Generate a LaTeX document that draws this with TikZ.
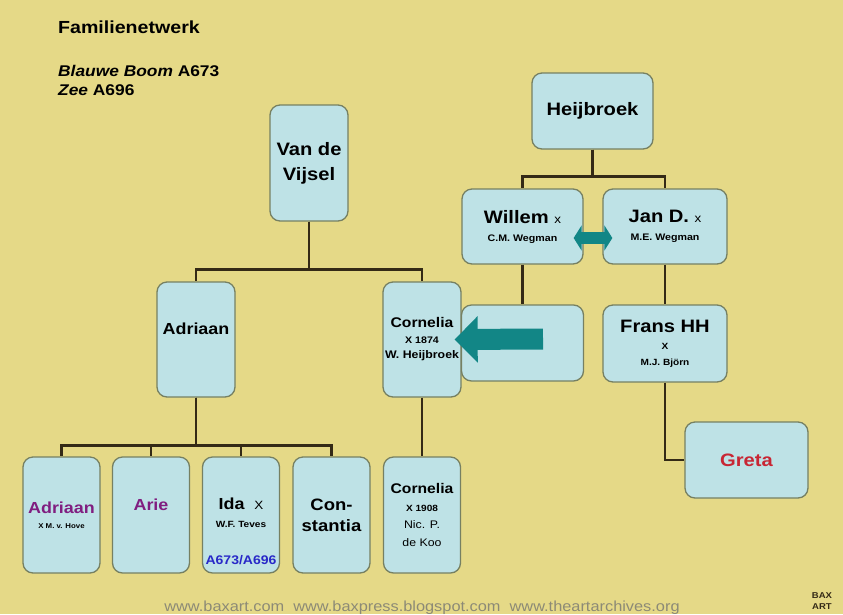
\documentclass[tikz,border=0pt]{standalone}
\usepackage{fontspec}
\setmainfont{Liberation Sans}[FakeStretch=1.12]
\usetikzlibrary{arrows.meta}
\definecolor{bgyellow}{RGB}{229,217,135}
\definecolor{boxfill}{RGB}{190,226,230}
\definecolor{boxline}{RGB}{118,128,98}
\definecolor{tieline}{RGB}{52,42,22}
\definecolor{arrowteal}{RGB}{18,134,134}
\definecolor{gretared}{RGB}{200,38,52}
\definecolor{namepurple}{RGB}{128,30,128}
\definecolor{codeblue}{RGB}{40,40,200}
\definecolor{sitegray}{RGB}{140,138,118}

\begin{document}
\begin{tikzpicture}
[every node/.style={inner sep=0pt},
 famblock/.style={rectangle, rounded corners=10pt, fill=boxfill, draw=boxline, line width=1.3pt, align=center, text=black},
 tallblock/.style={famblock, minimum width=78pt, minimum height=115pt},
 kidblock/.style={famblock, minimum width=77pt, minimum height=116pt},
 wideblock/.style={famblock, minimum width=122pt, minimum height=76pt},
 bigname/.style={font=\bfseries\fontsize{18pt}{22pt}\selectfont},
 midname/.style={font=\bfseries\fontsize{16pt}{20pt}\selectfont},
 tie/.style={line width=2.4pt, color=tieline},
 marriage/.style={line width=12pt, color=arrowteal, {Triangle[width=25pt,length=8pt]}-{Triangle[width=25pt,length=8pt]}},
 transfer/.style={line width=21pt, color=arrowteal, -{Triangle[width=45pt,length=23pt]}}]
\useasboundingbox (0pt,0pt) rectangle (843pt,-614pt);
\fill [bgyellow] (0pt,0pt) rectangle (843pt,-614pt);
% titel
\node (title) [anchor=base west, font=\bfseries\fontsize{17.5pt}{20pt}\selectfont] at (58pt,-33pt) {Familienetwerk};
\node (legendA) [anchor=base west, font=\bfseries\fontsize{15.5pt}{19pt}\selectfont] at (58pt,-76pt) {\textit{Blauwe Boom} A673};
\node (legendB) [anchor=base west, font=\bfseries\fontsize{15.5pt}{19pt}\selectfont] at (58pt,-95pt) {\textit{Zee} A696};
% Van de Vijsel
\node (vdvijsel) [tallblock, minimum height=116pt, font=\bfseries\fontsize{18pt}{25pt}\selectfont] at (309pt,-163pt) {Van de\\Vijsel};
\node (adriaan) [tallblock, midname] at (196pt,-339.5pt) {\rule[-21pt]{0pt}{21pt}Adriaan};
\node (cornelia) [tallblock, font=\bfseries\fontsize{14pt}{15.5pt}\selectfont] at (422pt,-339.5pt) {Cornelia\\{\fontsize{9.5pt}{11pt}\selectfont X 1874}\\{\fontsize{11pt}{13pt}\selectfont W. Heijbroek}};
% Heijbroek
\node (heijbroek) [wideblock, minimum width=121pt, bigname] at (592.5pt,-111pt) {Heijbroek};
\node (willem) [wideblock, minimum width=121pt, minimum height=75pt, bigname] at (522.5pt,-226.5pt) {Willem {\mdseries\fontsize{12pt}{14pt}\selectfont x}\\[-4pt]{\fontsize{9.5pt}{11pt}\selectfont C.M. Wegman}};
\node (janD) [wideblock, minimum width=124pt, minimum height=75pt, bigname] at (665pt,-226.5pt) {Jan D. {\mdseries\fontsize{12pt}{14pt}\selectfont x}\\[-4pt]{\fontsize{9.5pt}{11pt}\selectfont M.E. Wegman}};
\node (willemkid) [wideblock] at (522.5pt,-343pt) {};
\node (frans) [wideblock, minimum width=124pt, minimum height=77pt, font=\bfseries\fontsize{18pt}{16pt}\selectfont] at (665pt,-343.5pt) {Frans HH\\[1.5pt]{\fontsize{9pt}{11pt}\selectfont X}\\{\fontsize{9pt}{11pt}\selectfont M.J. Björn}};
\node (greta) [wideblock, minimum width=123pt, bigname, text=gretared] at (746.5pt,-460pt) {Greta};
% kinderen
\node (adriaanjr) [kidblock, font=\bfseries\fontsize{16pt}{14.5pt}\selectfont] at (61.5pt,-515pt) {\textcolor{namepurple}{Adriaan}\\{\fontsize{7pt}{8pt}\selectfont X M. v. Hove}};
\node (arie) [kidblock, midname, text=namepurple] at (151pt,-515pt) {\rule[-20pt]{0pt}{20pt}Arie};
\node (ida) [kidblock, font=\bfseries\fontsize{16pt}{17.5pt}\selectfont] at (241pt,-515pt) {\rule{0pt}{44pt}Ida\ \ {\mdseries\fontsize{12pt}{14pt}\selectfont X}\\{\fontsize{9pt}{11pt}\selectfont W.F. Teves}\\[19.5pt]{\fontsize{12.5pt}{14pt}\selectfont\textcolor{codeblue}{A673/A696}}};
\node (constantia) [kidblock, font=\bfseries\fontsize{16.5pt}{21pt}\selectfont] at (331.5pt,-515pt) {Con-\\stantia};
\node (corneliajr) [kidblock, font=\bfseries\fontsize{14pt}{17.5pt}\selectfont] at (422pt,-515pt) {Cornelia\\{\fontsize{9pt}{11pt}\selectfont X 1908}\\{\mdseries\fontsize{11pt}{13pt}\selectfont Nic. P.}\\{\mdseries\fontsize{11pt}{13pt}\selectfont de Koo}};
% lijnen
\draw [tie] (vdvijsel.south) |- ([yshift=12pt]adriaan.north) -- (adriaan.north);
\draw [tie] (vdvijsel.south) |- ([yshift=12pt]cornelia.north) -- (cornelia.north);
\foreach \kid in {adriaanjr, arie, ida, constantia}
  \draw [tie] (adriaan.south) |- ([yshift=11pt]\kid.north) -- (\kid.north);
\draw [tie] (cornelia.south) -- (corneliajr.north);
\draw [tie] (heijbroek.south) |- ([yshift=12pt]willem.north) -- (willem.north);
\draw [tie] (heijbroek.south) |- ([yshift=12pt]janD.north) -- (janD.north);
\draw [tie] (willem.south) -- (willemkid.north);
\draw [tie] (janD.south) -- (frans.north);
\draw [tie] (frans.south) |- (greta.west);
% pijlen
\draw [marriage] ([shift={(-10pt,-11.5pt)}]willem.east) -- ([shift={(10pt,-11.5pt)}]janD.west);
\draw [transfer] ([shift={(20.5pt,4pt)}]willemkid.center) -- ([xshift=-7pt]cornelia.east);
% onderschrift
\node (sites) [anchor=base, text=sitegray, font=\fontsize{14.6pt}{16pt}\selectfont] at (422pt,-611pt) {www.baxart.com\ \ www.baxpress.blogspot.com\ \ www.theartarchives.org};
\node (baxA) [anchor=base, font=\bfseries\fontsize{8.5pt}{10pt}\selectfont, text=tieline] at (822pt,-598pt) {BAX};
\node (baxB) [anchor=base, font=\bfseries\fontsize{8.5pt}{10pt}\selectfont, text=tieline] at (822pt,-609pt) {ART};
\end{tikzpicture}
\end{document}
